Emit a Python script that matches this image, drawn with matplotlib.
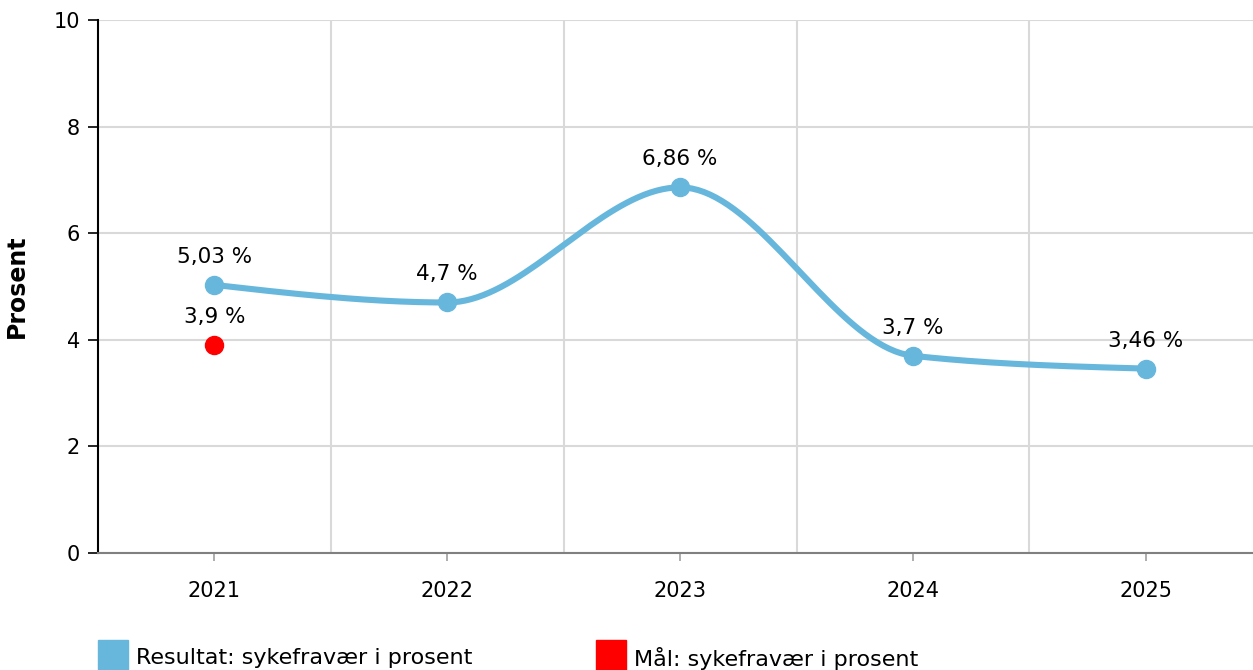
import numpy as np
import matplotlib.pyplot as plt
from matplotlib.patches import Rectangle

years = [2021, 2022, 2023, 2024, 2025]
result = [5.03, 4.7, 6.86, 3.7, 3.46]
result_labels = ["5,03 %", "4,7 %", "6,86 %", "3,7 %", "3,46 %"]
target_year = [2021]
target = [3.9]
target_labels = ["3,9 %"]

BLUE = '#67b7dd'
RED = '#ff0000'


def monotone_curve(x, y, n=40):
    # monotone cubic (same idea as d3 curveMonotoneX)
    x = np.asarray(x, float)
    y = np.asarray(y, float)
    h = np.diff(x)
    s = np.diff(y) / h
    m = np.zeros_like(y)
    for i in range(1, len(y) - 1):
        p = (s[i - 1] * h[i] + s[i] * h[i - 1]) / (h[i - 1] + h[i])
        m[i] = (np.sign(s[i - 1]) + np.sign(s[i])) * min(abs(s[i - 1]), abs(s[i]), 0.5 * abs(p))
    m[0] = (3 * s[0] - m[1]) / 2
    m[-1] = (3 * s[-1] - m[-2]) / 2
    xs, ys = [], []
    for i in range(len(h)):
        t = np.linspace(0, 1, n)
        h00 = 2 * t**3 - 3 * t**2 + 1
        h10 = t**3 - 2 * t**2 + t
        h01 = -2 * t**3 + 3 * t**2
        h11 = t**3 - t**2
        xs.append(x[i] + t * h[i])
        ys.append(h00 * y[i] + h10 * h[i] * m[i] + h01 * y[i + 1] + h11 * h[i] * m[i + 1])
    return np.concatenate(xs), np.concatenate(ys)


fig = plt.figure(figsize=(12.53, 6.70), dpi=100)
ax = fig.add_axes([98 / 1253, 1 - 553 / 670, 1 - 98 / 1253, 533 / 670])

cx, cy = monotone_curve(years, result)
ax.plot(cx, cy, color=BLUE, lw=4.4, solid_capstyle='round', zorder=3, clip_on=False)
ax.plot(years, result, 'o', color=BLUE, ms=13, zorder=4, clip_on=False)
ax.plot(target_year, target, 'o', color=RED, ms=13, zorder=4, clip_on=False)

for x, y, lab in zip(years, result, result_labels):
    ax.annotate(lab, (x, y), xytext=(0, 13), textcoords='offset points',
                ha='center', va='bottom', fontsize=15.5)
for x, y, lab in zip(target_year, target, target_labels):
    ax.annotate(lab, (x, y), xytext=(0, 13), textcoords='offset points',
                ha='center', va='bottom', fontsize=15.5)

ax.set_xlim(2020.5, 2025.46)
ax.set_ylim(0, 10)
ax.set_xticks(years)
ax.set_xticks([2021.5, 2022.5, 2023.5, 2024.5], minor=True)
ax.set_yticks([0, 2, 4, 6, 8, 10])

ax.grid(True, axis='y', color='#d9d9d9', lw=1.5)
ax.grid(True, axis='x', which='minor', color='#d9d9d9', lw=1.5)
ax.set_axisbelow(True)

for side in ['top', 'right']:
    ax.spines[side].set_visible(False)
ax.spines['left'].set_color('black')
ax.spines['left'].set_linewidth(1.5)
ax.spines['bottom'].set_color('#808080')
ax.spines['bottom'].set_linewidth(1.5)

ax.tick_params(axis='y', direction='out', length=7, width=1.2, color='black',
               labelsize=15, pad=6)
ax.tick_params(axis='x', which='major', direction='out', length=6, width=1.2,
               color='#a0a0a0', labelsize=15, pad=14)
ax.tick_params(axis='x', which='minor', length=0)

ax.set_ylabel('Prosent', fontsize=17, fontweight='bold', labelpad=18)

# legend at the bottom (partly cut off like the original)
fig.add_artist(Rectangle((98 / 1253, 0), 30 / 1253, 30 / 670, transform=fig.transFigure,
                         color=BLUE, clip_on=False))
fig.text(136 / 1253, 12 / 670, 'Resultat: sykefravær i prosent', fontsize=16,
         va='center', ha='left')
fig.add_artist(Rectangle((596 / 1253, 0), 30 / 1253, 30 / 670, transform=fig.transFigure,
                         color=RED, clip_on=False))
fig.text(634 / 1253, 12 / 670, 'Mål: sykefravær i prosent', fontsize=16,
         va='center', ha='left')

fig.savefig('out.png', dpi=100)
